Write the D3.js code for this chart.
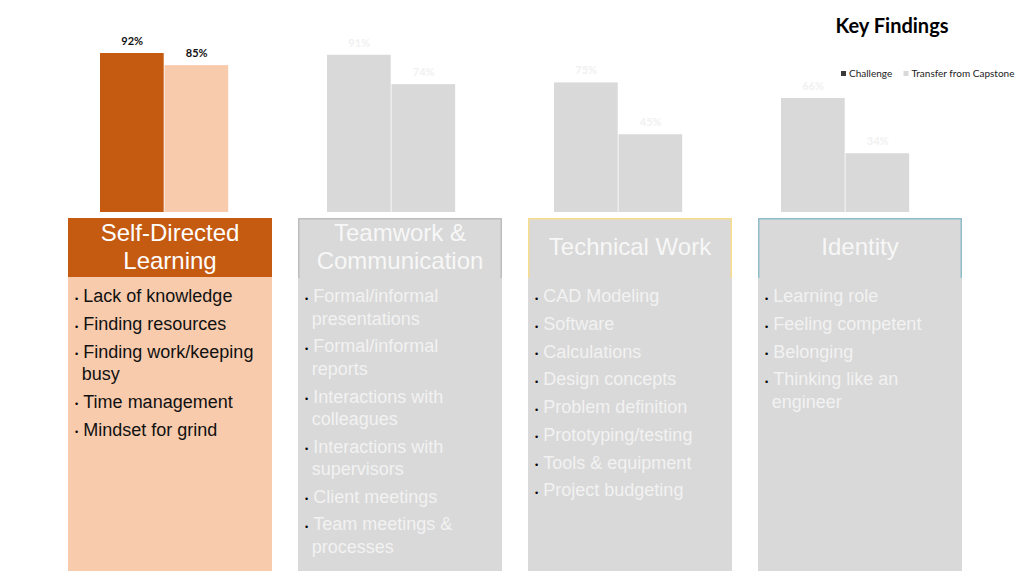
<!DOCTYPE html>
<html>
<head>
<meta charset="utf-8">
<script src="https://cdn.jsdelivr.net/npm/d3@7/dist/d3.min.js"></script>
<style>
    body { margin: 0; background: #fff; }
    svg { display: block; }
</style>
</head>
<body>
<div id="chart"></div>
<script>
// chart values
const categories = ["Self-Directed Learning", "Teamwork & Communication", "Technical Work", "Identity"];
const seriesNames = ["Challenge", "Transfer from Capstone"];
const challenge = [92, 91, 75, 66];
const transfer = [85, 74, 45, 34];

const selfDirected = ["Lack of knowledge", "Finding resources", "Finding work/keeping busy", "Time management", "Mindset for grind"];
const teamwork = ["Formal/informal presentations", "Formal/informal reports", "Interactions with colleagues",
    "Interactions with supervisors", "Client meetings", "Team meetings & processes"];
const technical = ["CAD Modeling", "Software", "Calculations", "Design concepts", "Problem definition",
    "Prototyping/testing", "Tools & equipment", "Project budgeting"];
const identity = ["Learning role", "Feeling competent", "Belonging", "Thinking like an engineer"];
const findings = [selfDirected, teamwork, technical, identity];

var width = 1024;
var height = 576;
var barBottom = 212;
var wrapWidth = 180;

// look of each panel / bar group (first one is highlighted)
var looks = [
    { bar: ["#C55A11", "#F8CBAD"], label: "#111", head: "#C55A11", edge: null, body: "#F8CBAD", headText: "#fff", text: "#111" },
    { bar: ["#D9D9D9", "#D9D9D9"], label: "#F1F1F1", head: "#D9D9D9", edge: "#BDBDBD", body: "#D9D9D9", headText: "#F7F7F7", text: "#F2F2F2" },
    { bar: ["#D9D9D9", "#D9D9D9"], label: "#F1F1F1", head: "#D9D9D9", edge: "#F7DE8E", body: "#D9D9D9", headText: "#F7F7F7", text: "#F2F2F2" },
    { bar: ["#D9D9D9", "#D9D9D9"], label: "#F1F1F1", head: "#D9D9D9", edge: "#8FBDCB", body: "#D9D9D9", headText: "#F7F7F7", text: "#F2F2F2" }
];

var svg = d3.select("#chart")
    .append("svg")
    .attr("width", width)
    .attr("height", height);

// title
svg.append("text")
    .attr("x", 892)
    .attr("y", 33)
    .attr("text-anchor", "middle")
    .attr("font-family", "Lato, 'Open Sans', sans-serif")
    .attr("font-weight", "bold")
    .attr("font-size", "20px")
    .attr("fill", "#000")
    .text("Key Findings");

// bars
var x0 = d3.scaleBand(categories, [100, 910]).paddingInner(98 / 227).paddingOuter(0);
var x1 = d3.scaleBand(seriesNames, [0, x0.bandwidth()]).padding(0);
var y = d3.scaleLinear([0, 100], [barBottom, barBottom - 172.8]);

var rows = categories.map(function (c, i) {
    return [
        { cat: c, key: seriesNames[0], value: challenge[i], look: looks[i], s: 0 },
        { cat: c, key: seriesNames[1], value: transfer[i], look: looks[i], s: 1 }
    ];
});

var groups = svg.selectAll("g.group")
    .data(rows)
    .enter()
    .append("g")
    .attr("class", "group")
    .attr("transform", function (d, i) { return `translate(${x0(categories[i])},0)`; });

groups.selectAll("rect")
    .data(function (d) { return d; })
    .enter()
    .append("rect")
    .attr("x", function (d) { return x1(d.key); })
    .attr("y", function (d) { return y(d.value); })
    .attr("width", x1.bandwidth() - 0.8)
    .attr("height", function (d) { return y(0) - y(d.value); })
    .attr("fill", function (d) { return d.look.bar[d.s]; });

groups.selectAll("text")
    .data(function (d) { return d; })
    .enter()
    .append("text")
    .attr("x", function (d) { return x1(d.key) + x1.bandwidth() / 2; })
    .attr("y", function (d) { return y(d.value) - 8; })
    .attr("text-anchor", "middle")
    .attr("font-family", "Lato, 'Open Sans', sans-serif")
    .attr("font-weight", "bold")
    .attr("font-size", "11px")
    .attr("fill", function (d) { return d.look.label; })
    .text(function (d) { return d.value + "%"; });

// legend
var legend = svg.append("g")
    .attr("font-family", "Lato, 'Open Sans', sans-serif")
    .attr("font-size", "10px");
var legendX = [841, 903.5];
var legendColors = ["#3A3A3A", "#D9D9D9"];
seriesNames.forEach(function (name, i) {
    legend.append("rect")
        .attr("x", legendX[i])
        .attr("y", 71)
        .attr("width", 5)
        .attr("height", 5)
        .attr("fill", legendColors[i]);
    legend.append("text")
        .attr("x", legendX[i] + 8)
        .attr("y", 76.5)
        .attr("fill", "#222")
        .text(name);
});

// panels
var px = d3.scaleBand(categories, [68, 962]).paddingInner(26 / 230).paddingOuter(0);
var headTop = 218, headBottom = 277, panelBottom = 571;

function wrap(str, size) {
    var probe = svg.append("text")
        .attr("font-family", "'Liberation Sans', Arial, sans-serif")
        .attr("font-size", size);
    var words = str.split(" "), lines = [], line = [];
    words.forEach(function (w) {
        line.push(w);
        probe.text(line.join(" "));
        if (probe.node().getComputedTextLength() > wrapWidth && line.length > 1) {
            line.pop();
            lines.push(line.join(" "));
            line = [w];
        }
    });
    lines.push(line.join(" "));
    probe.remove();
    return lines;
}

var panels = svg.selectAll("g.panel")
    .data(categories)
    .enter()
    .append("g")
    .attr("class", "panel")
    .attr("transform", function (d) { return `translate(${px(d)},0)`; })
    .attr("font-family", "'Liberation Sans', Arial, sans-serif");

var pw = px.bandwidth();

panels.append("rect")
    .attr("x", 0)
    .attr("y", headBottom)
    .attr("width", pw)
    .attr("height", panelBottom - headBottom)
    .attr("fill", function (d, i) { return looks[i].body; });

panels.append("rect")
    .attr("x", 0)
    .attr("y", headTop)
    .attr("width", pw)
    .attr("height", headBottom - headTop)
    .attr("fill", function (d, i) { return looks[i].head; });

panels.filter(function (d, i) { return looks[i].edge; })
    .append("path")
    .attr("d", `M0.75,${headBottom + 1}V${headTop + 0.75}H${pw - 0.75}V${headBottom + 1}`)
    .attr("fill", "none")
    .attr("stroke", function (d) { return looks[categories.indexOf(d)].edge; })
    .attr("stroke-width", 1.5);

panels.each(function (d, i) {
    var g = d3.select(this);
    var look = looks[i];

    // header title
    var lines = wrap(d, "24px");
    var mid = 255 - (lines.length - 1) * 27.5 / 2;
    lines.forEach(function (l, k) {
        g.append("text")
            .attr("x", pw / 2)
            .attr("y", mid + k * 27.5)
            .attr("text-anchor", "middle")
            .attr("font-size", "24px")
            .attr("fill", look.headText)
            .text(l);
    });

    // bullet list
    var yy = 302.3;
    findings[i].forEach(function (item) {
        g.append("text")
            .attr("x", 7)
            .attr("y", yy - 0.5)
            .attr("font-size", "9px")
            .attr("fill", "#000")
            .text("•");
        wrap(item, "18px").forEach(function (l, k) {
            if (k > 0) yy += 22.4;
            g.append("text")
                .attr("x", k === 0 ? 15.3 : 13.8)
                .attr("y", yy)
                .attr("font-size", "18px")
                .attr("fill", look.text)
                .text(l);
        });
        yy += 27.7;
    });
});
</script>
</body>
</html>
